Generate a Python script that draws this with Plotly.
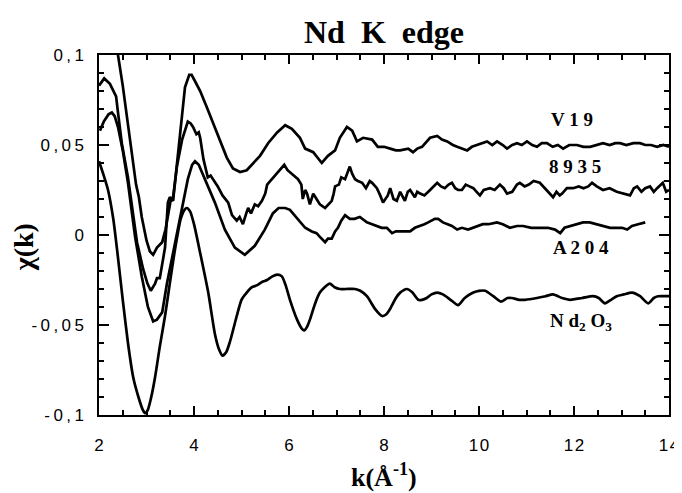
import plotly.graph_objects as go

# ---------------- data ----------------
v19_k = [2.30, 2.40, 2.50, 2.60, 2.70, 2.78, 2.84, 2.90, 3.00, 3.07, 3.14, 3.22, 3.33, 3.40, 3.46,
         3.52, 3.56, 3.64, 3.72, 3.81, 3.90, 3.95, 4.03, 4.13, 4.27, 4.44, 4.55, 4.69, 4.82, 4.97,
         5.11, 5.24, 5.39, 5.56, 5.75, 5.92, 6.06, 6.23, 6.34, 6.51, 6.69, 6.82, 6.97, 7.07, 7.22,
         7.33, 7.43, 7.56, 7.75, 7.87, 8.00, 8.13, 8.25, 8.34, 8.51, 8.61, 8.70, 8.80, 8.97, 9.12,
         9.22, 9.33, 9.45, 9.54, 9.65, 9.75, 9.85, 9.96, 10.05, 10.17, 10.28, 10.38, 10.50, 10.59,
         10.70, 10.80, 10.90, 11.01, 11.12, 11.22, 11.32, 11.43, 11.55, 11.66, 11.77, 11.90, 12.06,
         12.20, 12.34, 12.48, 12.61, 12.75, 12.87, 12.97, 13.10, 13.25, 13.39, 13.50, 13.62, 13.75,
         13.88, 14.00]
v19_y = [0.135, 0.100, 0.083, 0.063, 0.044, 0.028, 0.021, 0.010, -0.003, -0.009, -0.011, -0.007,
         -0.004, 0.003, 0.012, 0.021, 0.019, 0.038, 0.060, 0.082, 0.089, 0.089, 0.085, 0.080, 0.071,
         0.060, 0.053, 0.043, 0.037, 0.035, 0.036, 0.040, 0.044, 0.051, 0.057, 0.061, 0.059, 0.054,
         0.048, 0.046, 0.040, 0.044, 0.047, 0.054, 0.060, 0.058, 0.052, 0.054, 0.053, 0.049, 0.049,
         0.048, 0.047, 0.047, 0.048, 0.046, 0.048, 0.049, 0.054, 0.055, 0.053, 0.052, 0.050, 0.049,
         0.048, 0.047, 0.049, 0.050, 0.051, 0.052, 0.050, 0.052, 0.050, 0.048, 0.050, 0.051, 0.050,
         0.052, 0.050, 0.049, 0.051, 0.051, 0.049, 0.050, 0.048, 0.050, 0.050, 0.049, 0.049, 0.050,
         0.051, 0.050, 0.051, 0.051, 0.050, 0.051, 0.051, 0.050, 0.050, 0.049, 0.050, 0.049]

s8935_k = [2.00, 2.11, 2.23, 2.36, 2.40, 2.48, 2.61, 2.72, 2.80, 2.93, 3.02, 3.09, 3.18, 3.22, 3.28,
           3.39, 3.45, 3.49, 3.55, 3.64, 3.75, 3.87, 3.93, 3.98, 4.05, 4.10, 4.13, 4.20, 4.29, 4.35,
           4.40, 4.50, 4.60, 4.72, 4.80, 4.90, 4.96, 5.03, 5.10, 5.14, 5.20, 5.28, 5.35, 5.43, 5.50,
           5.54, 5.64, 5.70, 5.77, 5.90, 5.97, 6.06, 6.19, 6.26, 6.29, 6.34, 6.38, 6.44, 6.51, 6.58,
           6.65, 6.76, 6.90, 6.94, 6.97, 7.05, 7.10, 7.18, 7.23, 7.28, 7.33, 7.39, 7.45, 7.54, 7.62,
           7.70, 7.75, 7.85, 7.92, 7.98, 8.08, 8.13, 8.20, 8.27, 8.34, 8.44, 8.50, 8.55, 8.65, 8.70,
           8.76, 8.85, 8.97, 9.05, 9.12, 9.20, 9.28, 9.36, 9.43, 9.50, 9.56, 9.64, 9.72, 9.80, 9.88,
           9.95, 10.02, 10.10, 10.23, 10.33, 10.44, 10.52, 10.59, 10.70, 10.80, 10.86, 10.96, 11.05,
           11.15, 11.28, 11.38, 11.48, 11.56, 11.63, 11.70, 11.75, 11.85, 11.98, 12.10, 12.20, 12.30,
           12.38, 12.48, 12.61, 12.75, 12.90, 13.05, 13.18, 13.26, 13.33, 13.42, 13.50, 13.60, 13.68,
           13.75, 13.87, 13.94, 14.00]
s8935_y = [0.083, 0.087, 0.084, 0.077, 0.068, 0.051, 0.032, 0.010, -0.004, -0.019, -0.027, -0.031,
           -0.027, -0.024, -0.024, -0.007, 0.018, 0.021, 0.019, 0.038, 0.053, 0.063, 0.062, 0.060,
           0.056, 0.057, 0.054, 0.042, 0.032, 0.033, 0.031, 0.027, 0.022, 0.018, 0.011, 0.008, 0.010,
           0.006, 0.012, 0.015, 0.012, 0.017, 0.016, 0.019, 0.023, 0.028, 0.031, 0.033, 0.035, 0.039,
           0.036, 0.034, 0.031, 0.028, 0.020, 0.025, 0.023, 0.017, 0.023, 0.020, 0.017, 0.015, 0.019,
           0.023, 0.027, 0.028, 0.032, 0.031, 0.035, 0.038, 0.034, 0.031, 0.030, 0.029, 0.026, 0.030,
           0.029, 0.026, 0.022, 0.018, 0.022, 0.026, 0.020, 0.019, 0.024, 0.019, 0.024, 0.025, 0.021,
           0.024, 0.023, 0.022, 0.025, 0.027, 0.029, 0.027, 0.026, 0.028, 0.029, 0.026, 0.025, 0.025,
           0.028, 0.027, 0.026, 0.024, 0.022, 0.025, 0.026, 0.025, 0.028, 0.026, 0.023, 0.024, 0.028,
           0.029, 0.027, 0.028, 0.030, 0.029, 0.026, 0.023, 0.021, 0.024, 0.022, 0.023, 0.026, 0.026,
           0.027, 0.026, 0.027, 0.029, 0.027, 0.025, 0.026, 0.024, 0.023, 0.022, 0.026, 0.027, 0.024,
           0.026, 0.027, 0.024, 0.026, 0.029, 0.024, 0.025]

a204_k = [2.02, 2.10, 2.20, 2.27, 2.33, 2.40, 2.50, 2.61, 2.76, 2.90, 3.03, 3.09, 3.14, 3.22, 3.33,
          3.43, 3.60, 3.75, 3.87, 3.96, 4.02, 4.10, 4.23, 4.44, 4.65, 4.86, 5.07, 5.28, 5.49, 5.66,
          5.78, 5.92, 6.02, 6.17, 6.34, 6.48, 6.58, 6.65, 6.76, 6.82, 6.90, 6.97, 7.03, 7.10, 7.18,
          7.28, 7.38, 7.49, 7.58, 7.64, 7.75, 7.85, 7.95, 8.06, 8.12, 8.17, 8.25, 8.34, 8.45, 8.55,
          8.65, 8.76, 8.85, 8.93, 9.00, 9.07, 9.14, 9.24, 9.34, 9.43, 9.54, 9.64, 9.77, 9.88, 10.00,
          10.08, 10.20, 10.38, 10.50, 10.65, 10.80, 10.93, 11.10, 11.28, 11.45, 11.60, 11.71, 11.80,
          11.92, 12.05, 12.19, 12.33, 12.48, 12.62, 12.76, 12.88, 13.01, 13.12, 13.22, 13.35, 13.50]
a204_y = [0.058, 0.063, 0.067, 0.068, 0.066, 0.060, 0.047, 0.029, -0.001, -0.023, -0.040, -0.045,
          -0.048, -0.047, -0.043, -0.027, -0.005, 0.014, 0.031, 0.039, 0.041, 0.039, 0.031, 0.018,
          0.003, -0.007, -0.011, -0.006, 0.003, 0.012, 0.015, 0.015, 0.014, 0.009, 0.004, 0.002, 0.001,
          -0.001, -0.004, -0.002, -0.002, 0.002, 0.004, 0.008, 0.011, 0.009, 0.009, 0.010, 0.008,
          0.007, 0.006, 0.005, 0.004, 0.004, 0.002, 0.001, 0.002, 0.002, 0.002, 0.002, 0.004, 0.005,
          0.006, 0.007, 0.008, 0.009, 0.009, 0.007, 0.006, 0.005, 0.003, 0.004, 0.003, 0.004, 0.005,
          0.006, 0.006, 0.007, 0.006, 0.004, 0.005, 0.005, 0.004, 0.004, 0.004, 0.003, 0.001, 0.004,
          0.005, 0.006, 0.007, 0.007, 0.006, 0.005, 0.004, 0.004, 0.004, 0.003, 0.005, 0.006, 0.007]

nd2o3_k = [2.00, 2.10, 2.19, 2.30, 2.38, 2.50, 2.61, 2.72, 2.83, 2.92, 2.97, 3.03, 3.10, 3.18, 3.28,
           3.39, 3.49, 3.60, 3.72, 3.80, 3.85, 3.92, 4.00, 4.13, 4.30, 4.44, 4.52, 4.60, 4.68, 4.76,
           4.90, 5.00, 5.11, 5.22, 5.32, 5.44, 5.54, 5.65, 5.75, 5.85, 5.93, 6.02, 6.17, 6.27, 6.32,
           6.38, 6.44, 6.55, 6.65, 6.75, 6.86, 6.96, 7.07, 7.20, 7.39, 7.50, 7.64, 7.81, 7.96, 8.05,
           8.13, 8.25, 8.34, 8.48, 8.60, 8.72, 8.80, 8.90, 9.00, 9.12, 9.24, 9.40, 9.56, 9.70, 9.88,
           10.00, 10.13, 10.30, 10.46, 10.60, 10.69, 10.85, 10.97, 11.22, 11.40, 11.56, 11.75, 11.92,
           12.17, 12.40, 12.52, 12.65, 12.78, 12.90, 13.05, 13.22, 13.39, 13.56, 13.68, 13.77, 14.00]
nd2o3_y = [0.041, 0.033, 0.025, 0.009, -0.008, -0.036, -0.060, -0.079, -0.090, -0.097, -0.099,
           -0.097, -0.090, -0.079, -0.062, -0.045, -0.027, -0.008, 0.009, 0.014, 0.015, 0.013, 0.006,
           -0.010, -0.032, -0.055, -0.063, -0.067, -0.065, -0.059, -0.045, -0.036, -0.032, -0.029,
           -0.028, -0.026, -0.025, -0.023, -0.022, -0.023, -0.028, -0.036, -0.047, -0.052, -0.053,
           -0.051, -0.047, -0.038, -0.032, -0.029, -0.027, -0.029, -0.030, -0.030, -0.030, -0.031,
           -0.034, -0.041, -0.045, -0.044, -0.041, -0.035, -0.032, -0.030, -0.032, -0.036, -0.036,
           -0.035, -0.033, -0.032, -0.033, -0.036, -0.039, -0.035, -0.032, -0.031, -0.031, -0.034,
           -0.037, -0.035, -0.035, -0.036, -0.036, -0.035, -0.034, -0.033, -0.035, -0.036, -0.035,
           -0.034, -0.035, -0.038, -0.036, -0.034, -0.033, -0.032, -0.034, -0.038, -0.035, -0.034,
           -0.034]

x_tickvals = [2, 4, 6, 8, 10, 12, 14]
x_ticktext = ["2", "4", "6", "8", "1\u200a0", "1\u200a2", "1\u200a4"]
y_tickvals = [-0.1, -0.05, 0, 0.05, 0.1]
y_ticktext = ["-\u20090\u2009,\u20091", "-\u20090\u2009,\u20090\u20095", "0",
              "0\u2009,\u20090\u20095", "0\u2009,\u20091"]

series_names = ["V19", "8935", "A204", "Nd2O3"]
label_text = ["V 1 9", "8 9 3 5", "A 2 0 4", "N d<sub>2</sub> O<sub>3</sub>"]
x_title = "k(Å<sup>-1</sup>)"
y_title = "χ(k)"
chart_title = "Nd  K  edge"

# ---------------- figure ----------------
# the page body has an 8px margin, so the figure is drawn 8px in from the top-left corner
W, H = 674, 485

fig = go.Figure()
line_style = dict(color="black", width=2.7)
fig.add_trace(go.Scatter(x=v19_k, y=v19_y, mode="lines", name=series_names[0], line=line_style))
fig.add_trace(go.Scatter(x=s8935_k, y=s8935_y, mode="lines", name=series_names[1], line=line_style))
fig.add_trace(go.Scatter(x=a204_k, y=a204_y, mode="lines", name=series_names[2], line=line_style))
fig.add_trace(go.Scatter(x=nd2o3_k, y=nd2o3_y, mode="lines", name=series_names[3],
                         line=dict(color="black", width=2.7, shape="spline", smoothing=0.6)))

label_pos = [(11.96, 0.0639), (12.02, 0.0383), (12.15, -0.0067), (12.15, -0.0483)]
lab_font = dict(family="Liberation Serif", size=19, color="black", weight="bold")
for (lx, ly), txt in zip(label_pos, label_text):
    fig.add_annotation(x=lx, y=ly, xref="x", yref="y", text=txt, showarrow=False,
                       font=lab_font, xanchor="center", yanchor="middle")

# axis titles
fig.add_annotation(x=0.5, y=-0.168, xref="paper", yref="paper", text=x_title,
                   showarrow=False, xanchor="center", yanchor="middle",
                   font=dict(family="Liberation Serif", size=26, color="black", weight="bold"))
fig.add_annotation(x=-0.131, y=0.467, xref="paper", yref="paper", text=y_title,
                   showarrow=False, xanchor="center", yanchor="middle", textangle=-90,
                   font=dict(family="Liberation Serif", size=28, color="black", weight="bold"))

axis_common = dict(showline=True, linecolor="black", linewidth=1.5, mirror="ticks",
                   ticks="inside", tickcolor="black", tickwidth=1.5, showgrid=False,
                   zeroline=False, automargin=False,
                   tickfont=dict(family="Liberation Sans", size=17, color="black"))

fig.update_xaxes(range=[2, 14], tickvals=x_tickvals, ticktext=x_ticktext, ticklen=9,
                 minor=dict(dtick=0.5, ticks="inside", ticklen=5, tickcolor="black",
                            tickwidth=1.5, showgrid=False),
                 ticklabelstandoff=14, **axis_common)
fig.update_yaxes(range=[-0.1, 0.1], tickvals=y_tickvals, ticktext=y_ticktext, ticklen=10,
                 minor=dict(dtick=0.01, ticks="inside", ticklen=5, tickcolor="black",
                            tickwidth=1.5, showgrid=False),
                 ticklabelstandoff=10, **axis_common)

fig.update_layout(
    width=W, height=H,
    margin=dict(l=91, r=13, t=47, b=78),
    paper_bgcolor="white", plot_bgcolor="white",
    showlegend=False,
    title=dict(text=chart_title, x=(91 + W - 13) / 2 / W, xanchor="center",
               y=(H - 24) / H, yanchor="middle", yref="container",
               font=dict(family="Liberation Serif", size=32, color="black", weight="bold")),
)

fig.write_html("out.html")
